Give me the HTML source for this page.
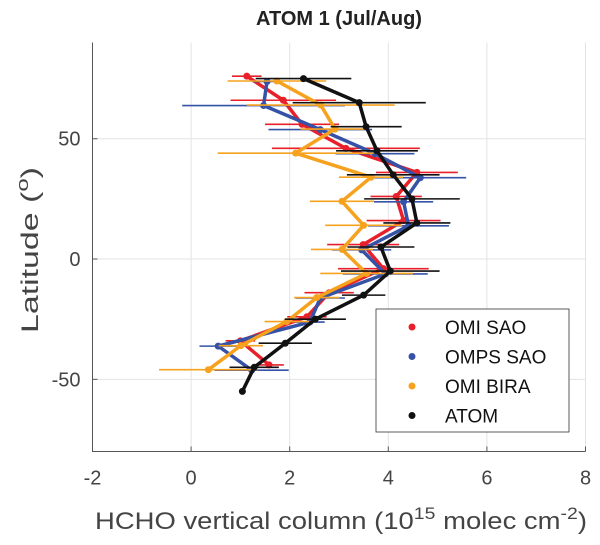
<!DOCTYPE html>
<html><head><meta charset="utf-8"><style>
body{margin:0;background:#fff;width:600px;height:540px;overflow:hidden}
text{font-family:"Liberation Sans",sans-serif}
</style></head><body>
<svg id="chart" width="600" height="540">
<text x="339" y="25" text-anchor="middle" font-size="20" font-weight="bold" fill="#222">ATOM 1 (Jul/Aug)</text>
<g id="grid"></g>
<g id="series"></g>
<g id="axes"></g>
<text x="95" y="529" font-size="24" fill="#444" textLength="492" lengthAdjust="spacingAndGlyphs">HCHO vertical column (10<tspan dy="-10" font-size="17">15</tspan><tspan dy="10"> molec cm</tspan><tspan dy="-10" font-size="17">-2</tspan><tspan dy="10">)</tspan></text>
<text transform="translate(38,333) rotate(-90)" font-size="24" fill="#444" textLength="166" lengthAdjust="spacingAndGlyphs">Latitude (<tspan dy="-10" font-size="17">o</tspan><tspan dy="10">)</tspan></text>
<g>
<rect x="376" y="309" width="193" height="123" fill="#fff" stroke="#333" stroke-width="0.8"/>
<g id="legend"></g>
</g>
</svg>
<script>
const xTicks=[-2,0,2,4,6,8];
const yTicks=[-50,0,50];
const names=["OMI SAO","OMPS SAO","OMI BIRA","ATOM"];
const colors=["#e8202a","#3552a6","#f6a21e","#111111"];
const latOffsets=[1,-1.2,-1,0];
const latsSat=[75,65,55,45,35,25,15,5,-5,-15,-25,-35,-45];
const latsAtom=[75,65,55,45,35,25,15,5,-5,-15,-25,-35,-45,-55];
const omiSao=[1.13,1.87,2.25,3.14,4.58,4.16,4.31,3.49,3.9,2.8,2.35,1.0,1.58];
const omiSaoErr=[0.3,1.07,0.75,1.5,0.83,0.52,0.75,0.73,0.92,0.5,0.4,0.3,0.3];
const ompsSao=[1.54,1.47,2.62,3.73,4.65,4.31,4.41,3.46,3.94,2.62,2.41,0.55,1.23];
const ompsSaoErr=[0.3,1.65,1.05,0.8,0.93,0.6,0.82,0.6,0.86,0.5,0.3,0.38,0.75];
const omiBira=[1.74,2.63,2.92,2.12,3.65,3.06,3.5,3.06,3.56,2.55,1.94,1.01,0.35];
const omiBiraErr=[1.0,1.5,0.7,1.58,0.65,0.65,0.78,0.63,0.94,0.46,0.45,0.45,1.0];
const atom=[2.28,3.41,3.55,3.77,4.1,4.48,4.58,3.85,4.04,3.5,2.52,1.91,1.28,1.04];
const atomErr=[0.97,1.35,0.72,0.83,0.94,0.97,0.68,0.68,1.0,0.44,0.62,0.54,0.5,0];
const NS="http://www.w3.org/2000/svg";
const L=92.5,R=585.5,T=42.5,B=451.5;
const X=v=>L+(v+2)/10*(R-L);
const Y=v=>B-(v+80)/170*(B-T);
function mk(tag,attrs,parent){const e=document.createElementNS(NS,tag);for(const k in attrs)e.setAttribute(k,attrs[k]);parent.appendChild(e);return e;}
const grid=document.getElementById('grid'),axes=document.getElementById('axes'),ser=document.getElementById('series');
xTicks.forEach(t=>{
 const g=mk('line',{x1:X(t),x2:X(t),y1:T,y2:B,stroke:'#e3e3e3','stroke-width':1},grid);
 
 
 const tk=mk('line',{x1:X(t),x2:X(t),y1:B,y2:B-5,stroke:'#555'},axes);
 
 
 const tx=mk('text',{x:X(t),y:B+33,'text-anchor':'middle','font-size':20,fill:'#444'},axes);
 tx.textContent=t;
 
 
});
yTicks.forEach(t=>{
 const g=mk('line',{x1:L,x2:R,y1:Y(t),y2:Y(t),stroke:'#e3e3e3','stroke-width':1},grid);
 
 
 const tk=mk('line',{x1:L,x2:L+5,y1:Y(t),y2:Y(t),stroke:'#555'},axes);
 
 
 const tx=mk('text',{x:L-12,y:Y(t)+7,'text-anchor':'end','font-size':20,fill:'#444'},axes);
 tx.textContent=t;
 
 
});
const ax=mk('path',{d:`M${L},${T}V${B}H${R}`,fill:'none',stroke:'#555','stroke-width':1},axes);


const data=[[latsSat,omiSao,omiSaoErr],[latsSat,ompsSao,ompsSaoErr],[latsSat,omiBira,omiBiraErr],[latsAtom,atom,atomErr]];
data.forEach((d,i)=>{
 const [lats,vals,errs]=d;const c=colors[i];const off=latOffsets[i];
 const g=mk('g',{},ser);
 
 
 vals.forEach((v,j)=>{if(errs[j]>0){const e=mk('line',{x1:X(v-errs[j]),x2:X(v+errs[j]),y1:Y(lats[j]+off),y2:Y(lats[j]+off),stroke:c,'stroke-width':1.6},g);
  
  }});
 const p=mk('polyline',{points:vals.map((v,j)=>X(v)+','+Y(lats[j]+off)).join(' '),fill:'none',stroke:c,'stroke-width':3.5,'stroke-linejoin':'round'},g);
 
 
 vals.forEach((v,j)=>{const m=mk('circle',{cx:X(v),cy:Y(lats[j]+off),r:3.5,fill:c},g);
  
  });
});
const lg=document.getElementById('legend');
names.forEach((n,i)=>{
 const y=327+i*29.5;
 const d=mk('circle',{cx:412,cy:y,r:3.5,fill:colors[i]},lg);
 
 
 const t=mk('text',{x:445,y:y+7,'font-size':19,fill:'#111'},lg);
 t.textContent=n;
 
 
});
</script>
</body></html>
